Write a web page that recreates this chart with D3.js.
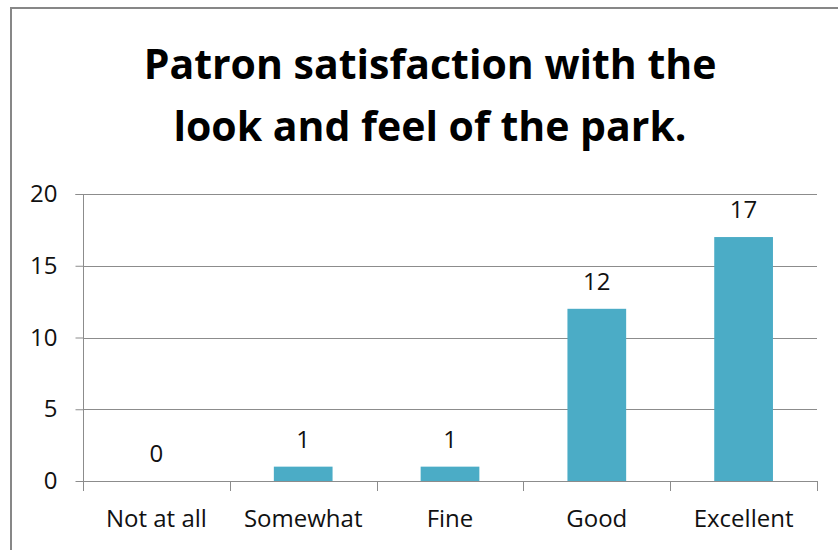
<!DOCTYPE html>
<html>
<head>
<meta charset="utf-8">
<script src="https://cdn.jsdelivr.net/npm/d3@7"></script>
<style>
  html, body { margin: 0; padding: 0; background: #fff; }
  svg { display: block; }
</style>
</head>
<body>
<svg id="chart" width="838" height="550"></svg>
<script>
const categories = ["Not at all", "Somewhat", "Fine", "Good", "Excellent"];
const values = [0, 1, 1, 12, 17];
const yTicks = [0, 5, 10, 15, 20];
const titleLines = ["Patron satisfaction with the", "look and feel of the park."];

const svg = d3.select("#chart");
const W = 838, H = 550;
const plot = { left: 83, right: 817, top: 194, bottom: 481 };
const font = "'Open Sans', 'Noto Sans', sans-serif";

// outer chart frame
svg.append("rect")
  .attr("x", 11).attr("y", 8)
  .attr("width", W).attr("height", H)
  .attr("fill", "#fff")
  .attr("stroke", "#878787").attr("stroke-width", 2);

// title
svg.append("g").selectAll("text")
  .data(titleLines).join("text")
  .attr("x", 430)
  .attr("y", (d, i) => 79 + i * 62)
  .attr("text-anchor", "middle")
  .attr("font-family", font)
  .attr("font-weight", 700)
  .attr("font-size", 41)
  .attr("fill", "#000")
  .text(d => d);

const x = d3.scaleBand()
  .domain(categories)
  .range([plot.left, plot.right])
  .paddingInner(0.6)
  .paddingOuter(0.3);

const y = d3.scaleLinear()
  .domain([0, 20])
  .range([plot.bottom, plot.top]);

// gridlines
svg.append("g").selectAll("line")
  .data(yTicks).join("line")
  .attr("x1", plot.left).attr("x2", plot.right)
  .attr("y1", d => Math.round(y(d)) + 0.5)
  .attr("y2", d => Math.round(y(d)) + 0.5)
  .attr("stroke", "#8c8c8c").attr("stroke-width", 1);

// y axis
const yAxis = svg.append("g")
  .attr("transform", `translate(${plot.left + 0.5},0)`)
  .call(d3.axisLeft(y).tickValues(yTicks).tickSize(8).tickPadding(18).tickFormat(d3.format("d")));
yAxis.select(".domain").attr("stroke", "#8c8c8c").attr("d", `M-8,${Math.round(y(20)) + 0.5}H0V${plot.bottom + 10}`);
yAxis.selectAll(".tick line").attr("stroke", "#8c8c8c");
yAxis.selectAll(".tick text")
  .attr("font-family", font).attr("font-size", 24).attr("fill", "#111");

// x axis (category boundary ticks)
const step = x.step();
const bounds = d3.range(categories.length + 1).map(i => plot.left + i * step);
svg.append("g").selectAll("line")
  .data(bounds).join("line")
  .attr("x1", d => Math.round(d) + 0.5).attr("x2", d => Math.round(d) + 0.5)
  .attr("y1", plot.bottom).attr("y2", plot.bottom + 10)
  .attr("stroke", "#8c8c8c");
svg.append("line")
  .attr("x1", plot.left).attr("x2", plot.right)
  .attr("y1", plot.bottom + 0.5).attr("y2", plot.bottom + 0.5)
  .attr("stroke", "#8c8c8c");

svg.append("g").selectAll("text")
  .data(categories).join("text")
  .attr("x", d => x(d) + x.bandwidth() / 2)
  .attr("y", 527)
  .attr("text-anchor", "middle")
  .attr("font-family", font).attr("font-size", 24).attr("fill", "#111")
  .text(d => d);

// bars
const data = categories.map((c, i) => ({ c, v: values[i] }));
svg.append("g").selectAll("rect")
  .data(data).join("rect")
  .attr("x", d => x(d.c))
  .attr("y", d => y(d.v))
  .attr("width", x.bandwidth())
  .attr("height", d => y(0) - y(d.v))
  .attr("fill", "#4bacc6");

// value labels
svg.append("g").selectAll("text")
  .data(data).join("text")
  .attr("x", d => x(d.c) + x.bandwidth() / 2)
  .attr("y", d => y(d.v) - 19)
  .attr("text-anchor", "middle")
  .attr("font-family", font).attr("font-size", 24).attr("fill", "#111")
  .text(d => d.v);
</script>
</body>
</html>
